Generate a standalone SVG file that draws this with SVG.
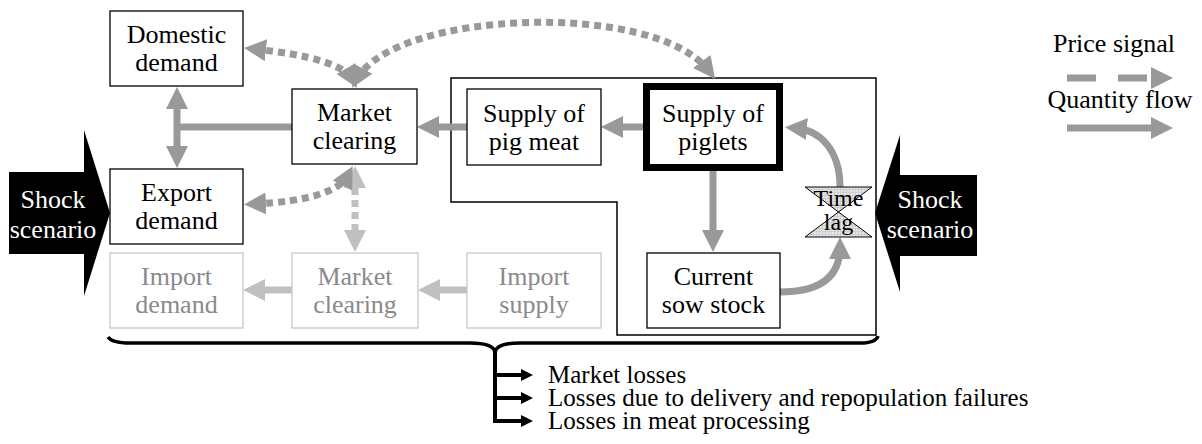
<svg xmlns="http://www.w3.org/2000/svg" width="1202" height="444" viewBox="0 0 1202 444" font-family="'Liberation Serif', 'DejaVu Serif', serif">
<style>
text{font-family:"Liberation Serif","DejaVu Serif",serif;font-size:26px;fill:#000;text-anchor:middle}
.box{fill:#fff;stroke:#000;stroke-width:1.3}
.gbox{fill:#fff;stroke:#c8c8c8;stroke-width:1.3}
.gt{fill:#8a8a8a}
.wt{fill:#fff}
.q{fill:none;stroke:#999;stroke-width:7}
.ql{fill:none;stroke:#c0c0c0;stroke-width:7}
.p{fill:none;stroke:#999;stroke-width:7;stroke-dasharray:7 5}
.pl{fill:none;stroke:#c0c0c0;stroke-width:7;stroke-dasharray:7 5}
.lt{text-anchor:start;font-size:25px}
</style>
<defs>
<marker id="ah" markerUnits="userSpaceOnUse" viewBox="0 0 22 22" markerWidth="22" markerHeight="22" refX="12" refY="11" orient="auto-start-reverse"><path d="M0,0 L22,11 L0,22 z" fill="#999"/></marker>
<marker id="ahl" markerUnits="userSpaceOnUse" viewBox="0 0 22 22" markerWidth="22" markerHeight="22" refX="12" refY="11" orient="auto-start-reverse"><path d="M0,0 L22,11 L0,22 z" fill="#c0c0c0"/></marker>
<marker id="ahb" markerUnits="userSpaceOnUse" viewBox="0 0 12 12" markerWidth="12" markerHeight="12" refX="8" refY="6" orient="auto"><path d="M0,0 L12,6 L0,12 z" fill="#000"/></marker>
<pattern id="grid" width="3" height="3" patternUnits="userSpaceOnUse"><rect width="3" height="3" fill="#e6e6e6"/><path d="M0,0.5 H3 M0.5,0 V3" stroke="#cfcfcf" stroke-width="1"/></pattern>
</defs>

<g id="container"><path d="M451,78 H876 V335 H617 V202 H451 Z" fill="none" stroke="#000" stroke-width="1.5"/></g>

<g id="connectors">
<path class="q" d="M292,127 H177"/>
<path class="q" d="M177,97 V158" marker-start="url(#ah)" marker-end="url(#ah)"/>
<path class="q" d="M467,127 H427" marker-end="url(#ah)"/>
<path class="q" d="M643,127 H611" marker-end="url(#ah)"/>
<path class="q" d="M713,171 V242" marker-end="url(#ah)"/>
<path class="q" d="M780,292 Q840,292 840,247" marker-end="url(#ah)"/>
<path class="q" d="M840,187 C840,150 820,130 795,128" marker-end="url(#ah)"/>
<path class="ql" d="M467,290 H428" marker-end="url(#ahl)"/>
<path class="ql" d="M292,290 H253" marker-end="url(#ahl)"/>
<path class="p" d="M254,49 Q340,58 352,79" marker-start="url(#ah)" marker-end="url(#ah)"/>
<path class="p" d="M357,79 C395,10 655,0 709,71" marker-start="url(#ah)" marker-end="url(#ah)"/>
<path class="pl" d="M355,176 V242" marker-start="url(#ahl)" marker-end="url(#ahl)"/>
<path class="p" d="M254,204 Q335,200 348,175" marker-start="url(#ah)" marker-end="url(#ah)"/>
</g>

<g id="domestic-demand"><rect class="box" x="110" y="11" width="133" height="75"/><text x="176.5" y="43">Domestic</text><text x="176.5" y="71">demand</text></g>
<g id="market-clearing"><rect class="box" x="292" y="89" width="125" height="75"/><text x="354.5" y="121">Market</text><text x="354.5" y="149">clearing</text></g>
<g id="export-demand"><rect class="box" x="110" y="169" width="133" height="75"/><text x="176.5" y="201">Export</text><text x="176.5" y="229">demand</text></g>
<g id="supply-pig-meat"><rect class="box" x="467" y="89" width="134" height="76"/><text x="534" y="121.5">Supply of</text><text x="534" y="149.5">pig meat</text></g>
<g id="supply-piglets"><rect x="646.5" y="86.5" width="133" height="81" fill="#fff" stroke="#000" stroke-width="7"/><text x="713" y="121.5">Supply of</text><text x="713" y="149.5">piglets</text></g>
<g id="sow-stock"><rect class="box" x="647" y="253" width="133" height="75"/><text x="713.5" y="285">Current</text><text x="713.5" y="313">sow stock</text></g>
<g id="import-demand"><rect class="gbox" x="110" y="253" width="133" height="75"/><text class="gt" x="176.5" y="285">Import</text><text class="gt" x="176.5" y="313">demand</text></g>
<g id="import-market-clearing"><rect class="gbox" x="292" y="253" width="126" height="75"/><text class="gt" x="355" y="285">Market</text><text class="gt" x="355" y="313">clearing</text></g>
<g id="import-supply"><rect class="gbox" x="467" y="253" width="134" height="75"/><text class="gt" x="534" y="285">Import</text><text class="gt" x="534" y="313">supply</text></g>

<g id="time-lag"><path d="M805,187 H872 L805,237 H872 Z" fill="url(#grid)" stroke="#000" stroke-width="1"/><text x="838.5" y="206" style="font-size:24px">Time</text><text x="838.5" y="230" style="font-size:24px">lag</text></g>

<g id="shock-left"><polygon points="9,172 84,172 84,130 110,213 84,296 84,254 9,254" fill="#000"/><text class="wt" x="53" y="208">Shock</text><text class="wt" x="53" y="238">scenario</text></g>
<g id="shock-right"><polygon points="977,175 900,175 900,135 875,213 900,292 900,256 977,256" fill="#000"/><text class="wt" x="930" y="208">Shock</text><text class="wt" x="930" y="238">scenario</text></g>

<g id="legend">
<text x="1114" y="52">Price signal</text>
<path class="q" d="M1067,78 H1163" style="stroke-dasharray:29 22" marker-end="url(#ah)"/>
<text x="1120" y="108">Quantity flow</text>
<path class="q" d="M1067,128 H1163" marker-end="url(#ah)"/>
</g>

<g id="losses">
<path d="M108,337 Q112,343 130,343 H470 Q493,343 495,352 Q497,343 520,343 H860 Q876,343 878,336" fill="none" stroke="#000" stroke-width="3.5"/>
<path d="M495,351 V423" fill="none" stroke="#000" stroke-width="4"/>
<path d="M495,375 H529" stroke="#000" stroke-width="4" marker-end="url(#ahb)"/>
<path d="M495,398 H529" stroke="#000" stroke-width="4" marker-end="url(#ahb)"/>
<path d="M495,421 H529" stroke="#000" stroke-width="4" marker-end="url(#ahb)"/>
<text class="lt" x="548" y="383">Market losses</text>
<text class="lt" x="548" y="406">Losses due to delivery and repopulation failures</text>
<text class="lt" x="548" y="429">Losses in meat processing</text>
</g>
</svg>
